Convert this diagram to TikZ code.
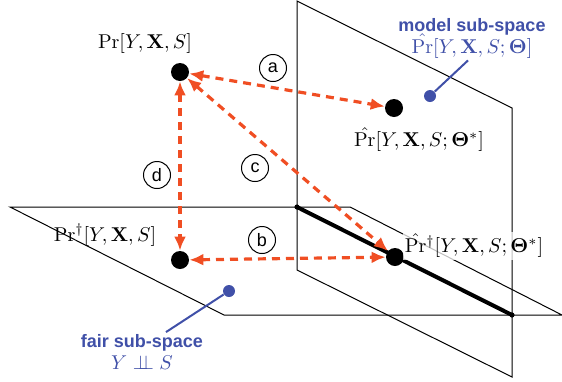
\documentclass[tikz,border=0pt]{standalone}
\usepackage{amsmath,amssymb}
\usepackage[no-math]{fontspec}
\newfontfamily\helv{Liberation Sans}
\usetikzlibrary{arrows.meta, positioning, calc}
\definecolor{gapred}{RGB}{240,78,35}
\definecolor{noteblue}{RGB}{64,80,168}

\begin{document}
\begin{tikzpicture}[x=0.5pt, y=-0.5pt,
    plane/.style={draw, line width=0.5pt},
    dot/.style={circle, fill=black, inner sep=0pt, minimum size=9pt},
    bluedot/.style={circle, fill=noteblue, inner sep=0pt, minimum size=6pt},
    gap/.style={draw=gapred, line width=1.6pt, dash pattern=on 4pt off 3pt,
        {Latex[length=7pt,width=6pt]}-{Latex[length=7pt,width=6pt]}},
    tag/.style={circle, draw, line width=0.5pt, inner sep=0pt, minimum size=13.5pt,
        font=\helv\fontsize{9}{10}\selectfont},
    note/.style={text=noteblue, align=center, inner sep=1pt},
    lab/.style={inner sep=1pt}]
    \useasboundingbox (0,0) rectangle (562,381);
    % planes
    \draw[plane] (297,1) -- (512,108) -- (512,377) -- (297,270) -- cycle;
    \draw[plane] (10,207) -- (350,207) -- (562,315) -- (224,315) -- cycle;
    \coordinate (cut1) at (297,207);
    \coordinate (cut2) at (512,315);
    \draw[line width=2pt] (cut1) -- (cut2);
    \fill (cut1) circle (1.3pt) (cut2) circle (1.3pt);
    % distributions
    \node[dot] (pjoint) at (180,72) {};
    \node[dot] (pmodel) at (394,108) {};
    \node[dot] (pfair) at (180,260) {};
    \node[dot] (pfairmodel) at (395,257) {};
    \node[lab] (ljoint) at (145,43) {$\mathrm{Pr}[Y,\mathbf{X},S]$};
    \node[lab] (lmodel) at (419,140) {$\hat{\mathrm{Pr}}[Y,\mathbf{X},S;\mathbf{\Theta}^{*}]$};
    \node[lab] (lfair) at (105,235) {$\mathrm{Pr}^{\dagger}[Y,\mathbf{X},S]$};
    \node[lab, fill=white, fill opacity=0.75, text opacity=1] (lfairmodel) at (474,246)
        {$\hat{\mathrm{Pr}}{}^{\dagger}[Y,\mathbf{X},S;\mathbf{\Theta}^{*}]$};
    % gaps
    \draw[gap] (pjoint) -- (pmodel);
    \draw[gap] (pfair) -- (pfairmodel);
    \draw[gap] (pjoint) -- (pfairmodel);
    \draw[gap] (pjoint) -- (pfair);
    \node[tag] (taga) at (273,68) {a};
    \node[tag] (tagb) at (262,240) {b};
    \node[tag] (tagc) at (255,168) {c};
    \node[tag] (tagd) at (157,175) {d};
    % sub-space notes
    \node[bluedot] (mdot) at (430,96) {};
    \node[note] (mnote) at (472,38)
        {{\helv\bfseries\fontsize{9}{11}\selectfont model sub-space}\\[-1pt]
         $\hat{\mathrm{Pr}}[Y,\mathbf{X},S;\mathbf{\Theta}]$};
    \draw[noteblue, line width=1pt] ([xshift=-2pt]mnote.south) -- (mdot);
    \node[bluedot] (fdot) at (229,291) {};
    \node[note] (fnote) at (142,352)
        {{\helv\bfseries\fontsize{9}{11}\selectfont fair sub-space}\\[-1pt]
         $Y \perp\!\!\!\perp S$};
    \draw[noteblue, line width=1pt] ([xshift=12pt]fnote.north) -- (fdot);
\end{tikzpicture}
\end{document}
